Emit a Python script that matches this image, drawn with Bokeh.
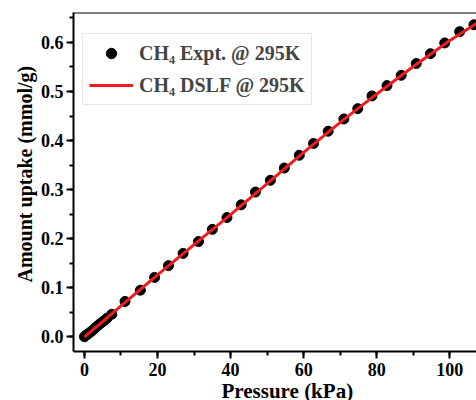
from bokeh.plotting import figure
from bokeh.models import (Range1d, NumeralTickFormatter, SingleIntervalTicker,
                          Span, Title, Legend, LegendItem)
from bokeh.embed import file_html
from bokeh.resources import INLINE

# CH4 adsorption isotherm at 295 K: measured points
pressure_expt = [0.0, 0.4, 0.8, 1.2, 1.7, 2.2, 2.8, 3.4, 4.0, 4.7, 5.4, 6.2, 7.5,
                 11.1, 15.3, 19.2, 23.0, 27.0, 31.2, 35.0, 39.0, 42.9, 46.8,
                 50.9, 54.7, 58.8, 62.7, 66.7, 71.0, 74.8, 78.7, 82.8, 86.7,
                 90.8, 94.7, 98.6, 102.7, 106.6]
uptake_expt = [0.000, 0.003, 0.005, 0.007, 0.010, 0.013, 0.017, 0.021, 0.025,
               0.029, 0.033, 0.038, 0.046, 0.072, 0.095, 0.121, 0.145, 0.170,
               0.194, 0.219, 0.243, 0.269, 0.295, 0.319, 0.344, 0.370, 0.394,
               0.419, 0.444, 0.465, 0.491, 0.512, 0.533, 0.557, 0.577, 0.599,
               0.622, 0.636]

# dual-site Langmuir-Freundlich fit curve
pressure_fit = [0, 5, 10, 20, 30, 40, 50, 60, 70, 80, 90, 100, 108]
uptake_fit = [0.000, 0.031, 0.063, 0.126, 0.188, 0.249, 0.312, 0.376, 0.437,
              0.495, 0.551, 0.604, 0.642]

x_ticks_step = 20
y_ticks_step = 0.1

SERIF = "Liberation Serif"

p = figure(width=476, height=400, output_backend="svg", toolbar_location=None,
           x_range=Range1d(-3.0, 107.3), y_range=Range1d(-0.030, 0.661),
           min_border_left=73, min_border_right=0, min_border_top=12,
           min_border_bottom=49)
p.outline_line_color = None
p.grid.grid_line_color = None
p.background_fill_color = "white"
p.border_fill_color = "white"

fit = p.line(pressure_fit, uptake_fit, line_color="#ee1c1c", line_width=3)
expt = p.scatter(pressure_expt, uptake_expt, size=10, marker="circle",
                 fill_color="black", line_color="black")
fit.level = "overlay"

# top frame edge
p.add_layout(Span(location=0.661, dimension="width", line_color="black",
                  line_width=2))

for ax in (p.xaxis[0], p.yaxis[0]):
    ax.axis_line_width = 2
    ax.axis_line_color = "black"
    ax.major_tick_line_width = 2
    ax.minor_tick_line_width = 2
    ax.major_tick_out = 7
    ax.major_tick_in = 0
    ax.minor_tick_out = 4
    ax.minor_tick_in = 0
    ax.major_label_text_font = SERIF
    ax.major_label_text_font_style = "bold"
    ax.major_label_text_font_size = "18px"
    ax.major_label_text_color = "black"

p.xaxis.ticker = SingleIntervalTicker(interval=x_ticks_step, num_minor_ticks=2)
p.yaxis.ticker = SingleIntervalTicker(interval=y_ticks_step, num_minor_ticks=2)
p.yaxis.formatter = NumeralTickFormatter(format="0.0")
p.xaxis.major_label_standoff = 4
p.yaxis.major_label_standoff = 3

# axis titles
p.add_layout(Title(text="Amount uptake (mmol/g)", text_font=SERIF,
                   text_font_style="bold", text_font_size="20px",
                   text_color="black", align="left", offset=69,
                   standoff=4), "left")
p.add_layout(Title(text="Pressure (kPa)", text_font=SERIF,
                   text_font_style="bold", text_font_size="21px",
                   text_color="black", align="left", offset=148,
                   standoff=-4), "below")

legend = Legend(items=[
    LegendItem(label="CH₄ Expt. @ 295K", renderers=[expt]),
    LegendItem(label="CH₄ DSLF @ 295K", renderers=[fit]),
], location=(9, 246))
legend.label_text_font = SERIF
legend.label_text_font_style = "bold"
legend.label_text_font_size = "20px"
legend.border_line_color = "#cfcfcf"
legend.border_line_width = 1
legend.padding = 6
legend.spacing = 6
legend.glyph_width = 44
legend.glyph_height = 26
legend.label_height = 26
legend.label_standoff = 6
legend.margin = 0
p.add_layout(legend)

open("out.html", "w").write(file_html(p, INLINE))
